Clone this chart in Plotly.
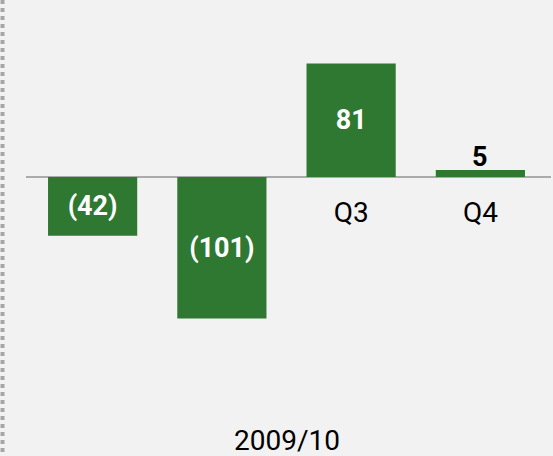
import plotly.graph_objects as go

categories = ["Q1", "Q2", "Q3", "Q4"]
values = [-42, -101, 81, 5]
period_label = "2009/10"

labels = [f"({abs(v)})" if v < 0 else f"{v}" for v in values]
inside = [abs(v) >= 20 for v in values]

W, H = 553, 456
L, R = 28, 545
T, B = 37, 359
ymin, ymax = -130, 100
zero_frac = (0 - ymin) / (ymax - ymin)

fig = go.Figure()
fig.add_trace(go.Bar(
    x=categories, y=values,
    text=[t if ins else "" for t, ins in zip(labels, inside)],
    textposition=["inside" if ins else "none" for ins in inside],
    insidetextanchor="middle",
    constraintext="none",
    cliponaxis=False,
    marker=dict(color="#2e7832", line=dict(width=0)),
    insidetextfont=dict(family="Roboto", size=27, color="white", weight="bold"),
    textangle=0,
))

for c, v, t, ins in zip(categories, values, labels, inside):
    if not ins:
        fig.add_annotation(x=c, y=v, text=t, showarrow=False,
                           yanchor="bottom", yshift=-5,
                           font=dict(family="Roboto", size=27, color="black",
                                     weight="bold"))

pw = R - L
ph = B - T
fig.add_shape(type="line", xref="paper", yref="y",
              x0=(26 - L) / pw, x1=(551 - L) / pw, y0=0, y1=0,
              line=dict(color="#ababab", width=2), layer="below")
fig.add_shape(type="line", xref="paper", yref="paper",
              x0=(2.5 - L) / pw, x1=(2.5 - L) / pw,
              y0=(B - 0) / ph, y1=(B - 456) / ph,
              line=dict(color="#a6a6a6", width=4, dash="4px,4px"))

fig.add_annotation(text=period_label, xref="paper", yref="paper",
                   x=0.5, y=(B - 440) / ph, yanchor="middle",
                   showarrow=False,
                   font=dict(family="Roboto", size=28, color="black"))

fig.update_layout(
    width=W, height=H,
    margin=dict(l=L, r=W - R, t=T, b=H - B, pad=0),
    paper_bgcolor="#f2f2f2", plot_bgcolor="#f2f2f2",
    bargap=0.31,
    showlegend=False,
    font=dict(family="Roboto", size=28, color="black"),
)
fig.update_xaxes(
    type="category", anchor="free", position=zero_frac,
    showline=False, showgrid=False, zeroline=False,
    ticks="", ticklabelstandoff=16,
    tickfont=dict(family="Roboto", size=28, color="black"),
    layer="below traces",
)
fig.update_yaxes(range=[ymin, ymax], visible=False, showgrid=False, zeroline=False)

fig.write_html(
    "out.html",
    config={"displayModeBar": False},
    post_script="document.body.style.margin='0';document.body.style.padding='0';"
                "document.body.style.overflow='hidden';"
                "document.documentElement.style.background='#f2f2f2';",
)
